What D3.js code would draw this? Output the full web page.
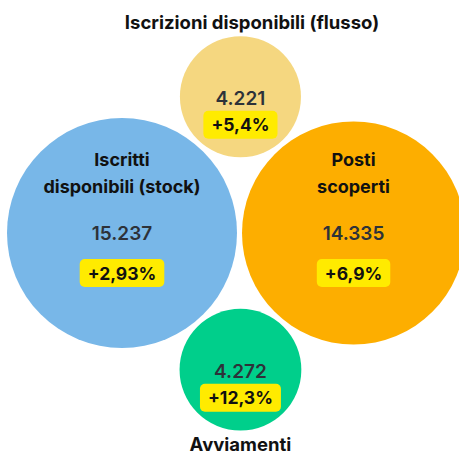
<!DOCTYPE html>
<html>
<head>
<meta charset="utf-8">
<script src="https://cdn.jsdelivr.net/npm/d3@7"></script>
<style>
html,body{margin:0;padding:0;background:#fff;}
svg{display:block;}
text{font-family:Inter,"Noto Sans",sans-serif;}
</style>
</head>
<body>
<svg id="chart" width="459" height="454"></svg>
<script>
// Data
const keys = ["stock", "posti", "flusso", "avviamenti"];
const labels = [["Iscritti", "disponibili (stock)"], ["Posti", "scoperti"], ["Iscrizioni disponibili (flusso)"], ["Avviamenti"]];
const values = [15237, 14335, 4221, 4272];
const valueLabels = ["15.237", "14.335", "4.221", "4.272"];
const changes = ["+2,93%", "+6,9%", "+5,4%", "+12,3%"];
const colors = ["#78B7E8", "#FDAE00", "#F5D780", "#00CF8B"];

const svg = d3.select("#chart");
const r = d3.scaleSqrt().domain([0, d3.max(values)]).range([0, 115]);
const gap = 5;

// Layout: big circles side by side, small ones tangent above and below
const rb = r(values[0]), ro = r(values[1]);
const bx = 7 + rb, cy = 233;
const ox = bx + rb + ro + gap;
function tangent(rs, dir) {
  const d1 = rb + rs + gap, d2 = ro + rs + gap, D = ox - bx;
  const a = (d1 * d1 - d2 * d2 + D * D) / (2 * D);
  const h = Math.sqrt(d1 * d1 - a * a);
  return [bx + a, cy + dir * h];
}
const pos = [[bx, cy], [ox, cy], tangent(r(values[2]), -1), tangent(r(values[3]), 1)];

const nodes = keys.map((k, i) => ({ k, i, x: pos[i][0], y: pos[i][1], r: r(values[i]) }));

svg.selectAll("circle.bubble").data(nodes).join("circle")
  .attr("class", "bubble")
  .attr("cx", d => d.x).attr("cy", d => d.y).attr("r", d => d.r)
  .attr("fill", d => colors[d.i]);

function badge(g, x, yTop, text, h) {
  const t = g.append("text").attr("x", x).attr("y", yTop + h / 2 + 6.5)
    .attr("text-anchor", "middle").attr("font-size", 17.5).attr("font-weight", 700)
    .attr("fill", "#111").text(text);
  const w = t.node().getComputedTextLength() + 16;
  g.insert("rect", "text").attr("x", x - w / 2).attr("y", yTop).attr("width", w).attr("height", h)
    .attr("rx", 5).attr("fill", "#FFEB00");
}

// Big circles
[0, 1].forEach(i => {
  const n = nodes[i];
  const g = svg.append("g");
  labels[i].forEach((l, j) => {
    g.append("text").attr("x", n.x).attr("y", n.y - 67 + j * 27)
      .attr("text-anchor", "middle").attr("font-size", 18).attr("font-weight", 700)
      .attr("fill", "#111").text(l);
  });
  g.append("text").attr("x", n.x).attr("y", n.y + 7)
    .attr("text-anchor", "middle").attr("font-size", 19).attr("font-weight", 600)
    .attr("fill", "#2d3239").text(valueLabels[i]);
  const bg = svg.append("g");
  badge(bg, n.x, n.y + 26, changes[i], 28);
});

// Small circles
[2, 3].forEach(i => {
  const n = nodes[i];
  svg.append("text").attr("x", n.x).attr("y", n.y + 8)
    .attr("text-anchor", "middle").attr("font-size", 19).attr("font-weight", 600)
    .attr("fill", "#2d3239").text(valueLabels[i]);
  const bg = svg.append("g");
  badge(bg, n.x, n.y + 14, changes[i], 28);
});

// Outer labels
svg.append("text").attr("x", 252).attr("y", 29)
  .attr("text-anchor", "middle").attr("font-size", 18.5).attr("font-weight", 700)
  .attr("fill", "#111").text(labels[2][0]);
svg.append("text").attr("x", nodes[3].x).attr("y", 451)
  .attr("text-anchor", "middle").attr("font-size", 18.5).attr("font-weight", 700)
  .attr("fill", "#111").text(labels[3][0]);
</script>
</body>
</html>
